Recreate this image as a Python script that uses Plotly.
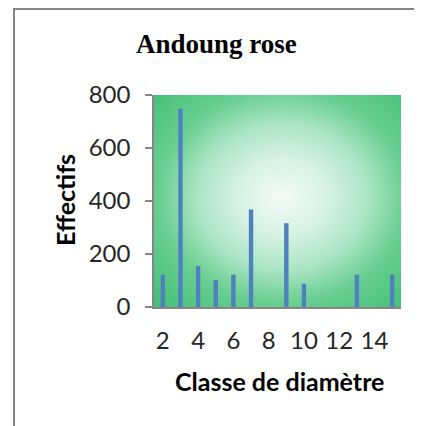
import plotly.graph_objects as go
import urllib.parse

# Data
classes = [2, 3, 4, 5, 6, 7, 8, 9, 10, 11, 12, 13, 14, 15]
effectifs = [122, 748, 155, 102, 122, 368, 0, 316, 88, 0, 0, 122, 0, 122]
x_tick_vals = [2, 4, 6, 8, 10, 12, 14]
y_tick_vals = [0, 200, 400, 600, 800]

# page has an 8px body margin; figure sized to fit the 422x426 window
W, H = 414, 418
L, R, T, B = 146, 21, 87, 119
pw, ph = W - L - R, H - T - B

def px_x(p):  # reference-page pixel -> paper x
    return (p - 8 - L) / pw

def px_y(p):  # reference-page pixel -> paper y
    return (H - B - (p - 8)) / ph

svg = ("<svg xmlns='http://www.w3.org/2000/svg' width='200' height='200' viewBox='0 0 200 200' preserveAspectRatio='none'>"
       "<defs><radialGradient id='g' cx='0.52' cy='0.48' r='0.71'>"
       "<stop offset='0' stop-color='rgb(243,251,247)'/>"
       "<stop offset='0.25' stop-color='rgb(216,242,228)'/>"
       "<stop offset='0.48' stop-color='rgb(172,229,198)'/>"
       "<stop offset='0.707' stop-color='rgb(104,206,145)'/>"
       "<stop offset='1' stop-color='rgb(70,192,120)'/>"
       "</radialGradient></defs><rect width='200' height='200' fill='url(#g)'/></svg>")
src = "data:image/svg+xml;charset=utf-8," + urllib.parse.quote(svg)

fig = go.Figure()
fig.add_trace(go.Bar(x=classes, y=effectifs, width=0.25,
                     marker=dict(color="#4F81BD", line=dict(width=0))))

border = dict(color="#868686", width=2)
fig.update_layout(
    width=W, height=H,
    margin=dict(l=L, r=R, t=T, b=B, pad=0),
    paper_bgcolor="white",
    plot_bgcolor="rgba(0,0,0,0)",
    showlegend=False,
    font=dict(family="Lato", size=24, color="#262626"),
    xaxis=dict(range=[1.5, 15.5], tickmode="array", tickvals=x_tick_vals,
               ticktext=[str(v) for v in x_tick_vals], showgrid=False, zeroline=False,
               showline=True, linecolor="#868686", linewidth=1.5, ticks="",
               ticklabelstandoff=11,
               tickfont=dict(family="Lato", size=24, color="#262626")),
    yaxis=dict(range=[0, 800], tickmode="array", tickvals=y_tick_vals, showgrid=False,
               zeroline=False, showline=True, linecolor="#868686", linewidth=1.5,
               ticks="outside", ticklen=7, tickcolor="#868686", tickwidth=1.5,
               ticklabelstandoff=10,
               tickfont=dict(family="Lato", size=24, color="#262626")),
    images=[dict(source=src, xref="paper", yref="paper", x=0, y=1, sizex=1, sizey=1,
                 sizing="stretch", layer="below", xanchor="left", yanchor="top")],
    shapes=[
        dict(type="line", xref="paper", yref="paper",
             x0=px_x(13), x1=px_x(440), y0=px_y(9), y1=px_y(9), line=border, layer="below"),
        dict(type="line", xref="paper", yref="paper",
             x0=px_x(14), x1=px_x(14), y0=px_y(8), y1=px_y(440), line=border, layer="below"),
    ],
    annotations=[
        dict(text="<b>Andoung rose</b>", xref="paper", yref="paper", x=px_x(216), y=px_y(44),
             xanchor="center", yanchor="middle", showarrow=False,
             font=dict(family="Liberation Serif", size=27, color="#000")),
        dict(text="<b>Effectifs</b>", xref="paper", yref="paper", x=px_x(65), y=px_y(200),
             xanchor="center", yanchor="middle", showarrow=False, textangle=-90,
             font=dict(family="Lato", size=25, color="#000")),
        dict(text="<b>Classe de diamètre</b>", xref="paper", yref="paper", x=px_x(279), y=px_y(381),
             xanchor="center", yanchor="middle", showarrow=False,
             font=dict(family="Lato", size=25, color="#000")),
    ],
)

fig.write_html("out.html", config={"displayModeBar": False})
